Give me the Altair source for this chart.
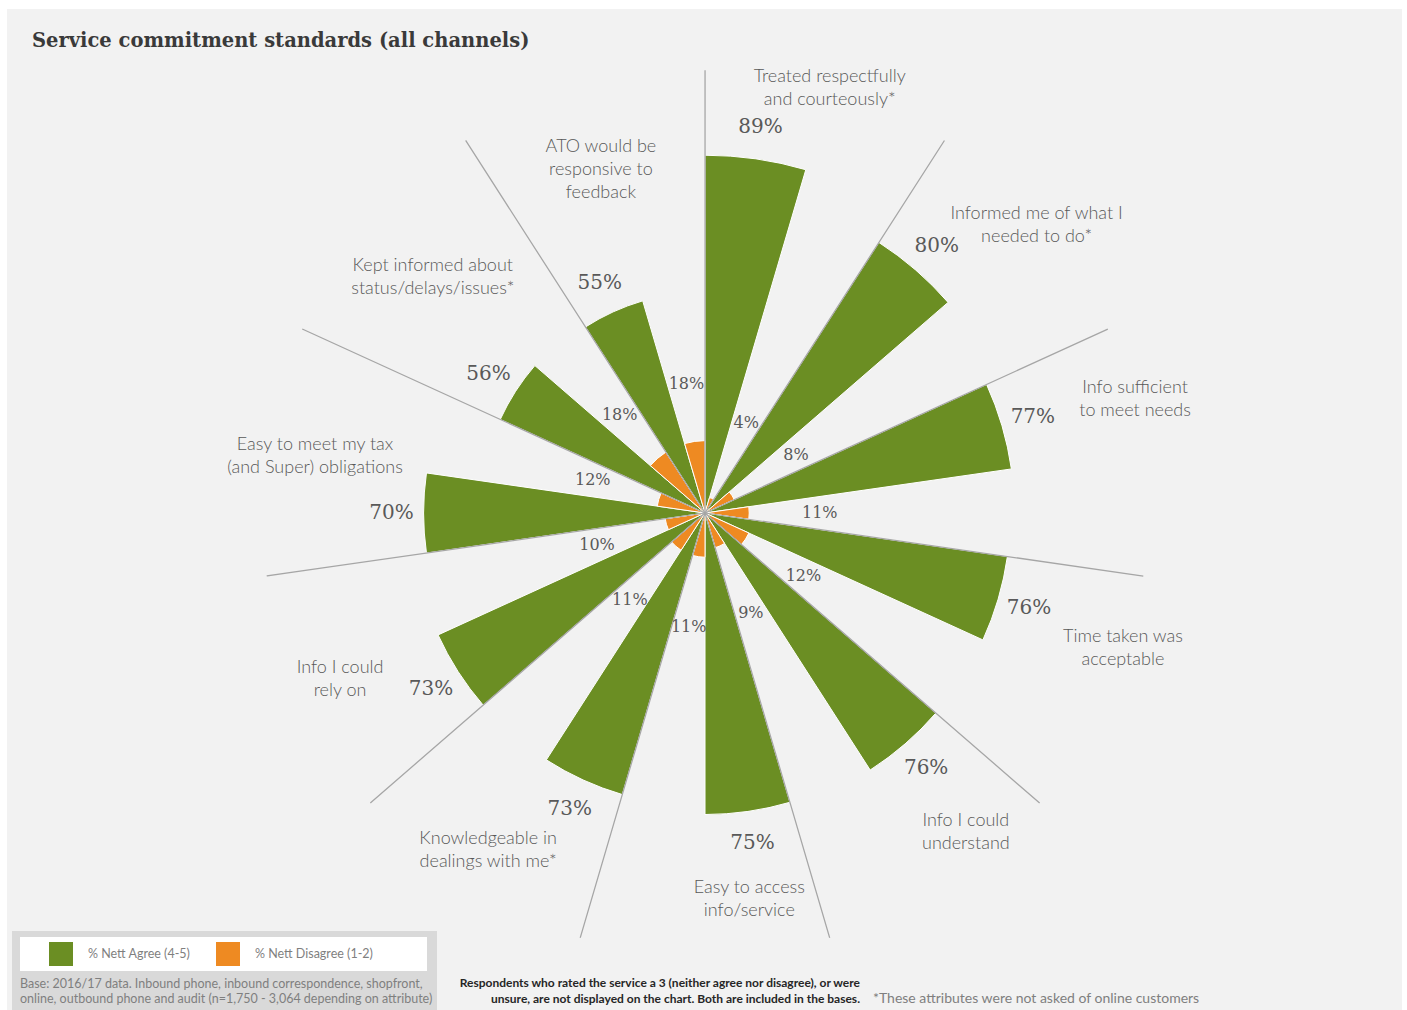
import altair as alt
import pandas as pd

# ---------------- data ----------------
categories = [
    "Treated respectfully\nand courteously*",
    "Informed me of what I\nneeded to do*",
    "Info sufficient\nto meet needs",
    "Time taken was\nacceptable",
    "Info I could\nunderstand",
    "Easy to access\ninfo/service",
    "Knowledgeable in\ndealings with me*",
    "Info I could\nrely on",
    "Easy to meet my tax\n(and Super) obligations",
    "Kept informed about\nstatus/delays/issues*",
    "ATO would be\nresponsive to\nfeedback",
]
agree = [89, 80, 77, 76, 76, 75, 73, 73, 70, 56, 55]
disagree = [4, 8, 11, 12, 9, 11, 11, 10, 12, 18, 18]

series_names = ["% Nett Agree (4-5)", "% Nett Disagree (1-2)"]
series_colors = ["#6B8E23", "#EE8A22"]

title_text = "Service commitment standards (all channels)"
base_note = [
    "Base: 2016/17 data. Inbound phone, inbound correspondence, shopfront,",
    "online, outbound phone and audit (n=1,750 - 3,064 depending on attribute)",
]
rating_note = [
    "Respondents who rated the service a 3 (neither agree nor disagree), or were",
    "unsure, are not displayed on the chart.  Both are included in the bases.",
]
online_note = "*These attributes were not asked of online customers"

# ---------------- layout constants ----------------
W, H = 1395, 1001
CX, CY = 698, 504          # polar centre inside the plot area
N = len(categories)
theta_scale = alt.Scale(domain=[0, N], range=[0, 6.283185307179586])
r_scale = alt.Scale(type="linear", domain=[0, 100], range=[0, 402])
GREY_TXT = "#595959"
SERIF = "DejaVu Serif, Georgia, serif"
SANS = "Lato, Open Sans, sans-serif"

df = pd.DataFrame({"idx": list(range(N)), "category": categories,
                   "agree": agree, "disagree": disagree})

ang = f"((datum.idx + 0.5) * 2 * PI / {N})"
base = alt.Chart(df).transform_calculate(
    gm="datum.idx + 0.25",
    om="datum.idx + 0.75",
    l1="datum.idx + 0.0004",
    agreeLabel="datum.agree + '%'",
    disLabel="datum.disagree + '%'",
    agreeR="datum.agree + 8",
    disR="22.5 + 0.55 * datum.disagree",
    nlines="split(datum.category, '\\n').length",
    lineR="110",
).transform_calculate(
    cm=f"datum.idx + 0.5 + ((sin({ang}) > -0.1 && cos({ang}) < 0.5) ? -0.2 : 0)",
).transform_calculate(
    ca=f"datum.cm * 2 * PI / {N}",
).transform_calculate(
    catR=("56 + 0.6 * datum.agree"
          " + (sin(datum.ca) > 0 ? 9 * sin(datum.ca) * sin(datum.ca) : 0)"
          " - ((cos(datum.ca) < 0 && sin(datum.ca) > -0.2) ? 4.5 * cos(datum.ca) * cos(datum.ca) : 0)"
          " + (datum.nlines - 2) * 2.9"),
)

# wedges (long format)
wedges = base.transform_fold(
    ["agree", "disagree"], as_=["key", "value"]
).transform_calculate(
    series=f"datum.key == 'agree' ? '{series_names[0]}' : '{series_names[1]}'",
    t0="datum.idx + (datum.key == 'agree' ? 0 : 0.5)",
    t1="datum.idx + (datum.key == 'agree' ? 0.5 : 1)",
).mark_arc(x=CX, y=CY, stroke="white", strokeWidth=1).encode(
    theta=alt.Theta("t0:Q", scale=theta_scale, stack=False),
    theta2="t1:Q",
    radius=alt.Radius("value:Q", scale=r_scale),
    color=alt.Color(
        "series:N",
        scale=alt.Scale(domain=series_names, range=series_colors),
        legend=alt.Legend(
            title=None, orient="none", legendX=42, legendY=933,
            direction="horizontal", symbolType="square", symbolSize=576,
            symbolStrokeWidth=0, labelFont=SANS, labelFontSize=12.5,
            labelColor="#7f7f7f", labelOffset=15, columnPadding=25, padding=0,
        ),
    ),
)

# divider lines
lines = base.mark_arc(x=CX, y=CY, stroke="#a6a6a6", strokeWidth=1.2,
                      fillOpacity=0).encode(
    theta=alt.Theta("idx:Q", scale=theta_scale, stack=False),
    theta2="l1:Q",
    radius=alt.Radius("lineR:Q", scale=r_scale),
)

agree_lbl = base.mark_text(x=CX, y=CY, font=SERIF, fontSize=20,
                           color=GREY_TXT, baseline="middle").encode(
    theta=alt.Theta("gm:Q", scale=theta_scale, stack=False),
    radius=alt.Radius("agreeR:Q", scale=r_scale),
    text="agreeLabel:N",
)

dis_lbl = base.mark_text(x=CX, y=CY, font=SERIF, fontSize=16,
                         color=GREY_TXT, baseline="middle").encode(
    theta=alt.Theta("om:Q", scale=theta_scale, stack=False),
    radius=alt.Radius("disR:Q", scale=r_scale),
    text="disLabel:N",
)

cat_lbl = base.mark_text(x=CX, y=CY, font=SANS, fontSize=18, fontWeight=300,
                         color=GREY_TXT, baseline="middle", lineBreak="\n",
                         lineHeight=23, dy=-11.5).encode(
    theta=alt.Theta("cm:Q", scale=theta_scale, stack=False),
    radius=alt.Radius("catR:Q", scale=r_scale),
    text="category:N",
)

one = pd.DataFrame({"k": [0]})
panel = alt.Chart(one).mark_rect(color="#f2f2f2").encode(
    x=alt.value(0), x2=alt.value(W), y=alt.value(0), y2=alt.value(H))
grey_box = alt.Chart(one).mark_rect(color="#d9d9d9").encode(
    x=alt.value(5), x2=alt.value(430), y=alt.value(922), y2=alt.value(1001))
white_box = alt.Chart(one).mark_rect(color="white").encode(
    x=alt.value(13), x2=alt.value(420), y=alt.value(928), y2=alt.value(962))

title = alt.Chart(pd.DataFrame({"t": [title_text]})).mark_text(
    font=SERIF, fontSize=19.5, fontWeight="bold", color="#3a3a3a",
    align="left", baseline="alphabetic").encode(
    text="t:N", x=alt.value(25), y=alt.value(38))

base_txt = alt.Chart(pd.DataFrame({"t": ["\n".join(base_note)]})).mark_text(
    font=SANS, fontSize=12.5, color="#7f7f7f", align="left", baseline="middle",
    lineBreak="\n", lineHeight=15).encode(
    text="t:N", x=alt.value(13), y=alt.value(975))

rating_txt = alt.Chart(pd.DataFrame({"t": ["\n".join(rating_note)]})).mark_text(
    font=SANS, fontSize=12, fontWeight="bold", color="#262626", align="right",
    baseline="middle", lineBreak="\n", lineHeight=16).encode(
    text="t:N", x=alt.value(853), y=alt.value(974))

online_txt = alt.Chart(pd.DataFrame({"t": [online_note]})).mark_text(
    font=SANS, fontSize=14, color="#7f7f7f", align="left",
    baseline="middle").encode(
    text="t:N", x=alt.value(866), y=alt.value(990))

chart = alt.layer(
    panel, grey_box, white_box, wedges, lines, agree_lbl, dis_lbl, cat_lbl,
    title, base_txt, rating_txt, online_txt,
).properties(
    width=W, height=H,
    padding={"left": 7, "top": 9, "right": 5, "bottom": 0},
    autosize=alt.AutoSizeParams(type="none"),
    background="white",
).configure_view(stroke=None)

chart.save("out.html", embed_options={"renderer": "svg", "actions": False})
